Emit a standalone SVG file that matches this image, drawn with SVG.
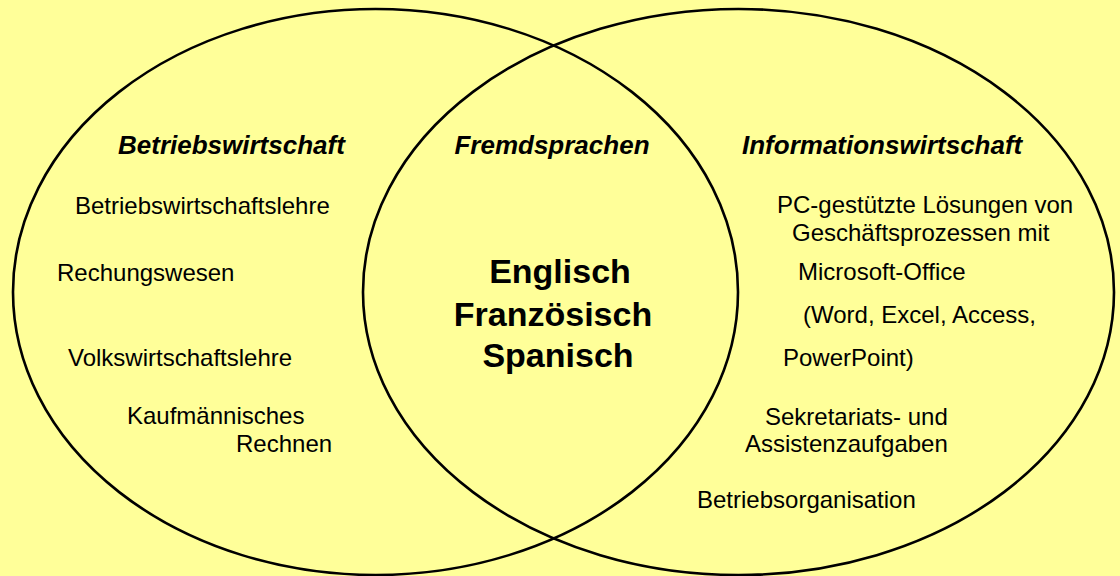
<svg xmlns="http://www.w3.org/2000/svg" width="1120" height="576" viewBox="0 0 1120 576">
<style>
.bg{fill:#FFFF99}
.ell{fill:none;stroke:#000;stroke-width:2.6}
.h{font-family:"Liberation Sans",Arial,sans-serif;font-size:26px;font-weight:bold;font-style:italic;fill:#000}
.t{font-family:"Liberation Sans",Arial,sans-serif;font-size:24px;fill:#000}
.c{font-family:"Liberation Sans",Arial,sans-serif;font-size:34px;font-weight:bold;fill:#000;text-anchor:middle}
</style>
<rect class="bg" x="0" y="0" width="1120" height="576"/>
<g id="connectors"></g>
<g id="left">
<ellipse class="ell" cx="375.5" cy="292" rx="362.5" ry="283"/>
<text class="h" x="118" y="154">Betriebswirtschaft</text>
<text class="t" x="75" y="214">Betriebswirtschaftslehre</text>
<text class="t" x="57" y="281">Rechungswesen</text>
<text class="t" x="68" y="366">Volkswirtschaftslehre</text>
<text class="t" x="127" y="424">Kaufmännisches</text>
<text class="t" x="236" y="452">Rechnen</text>
</g>
<g id="right">
<ellipse class="ell" cx="738.5" cy="292" rx="375.5" ry="283"/>
<text class="h" x="742" y="154">Informationswirtschaft</text>
<text class="t" x="777" y="213">PC-gestützte Lösungen von</text>
<text class="t" x="792" y="241">Geschäftsprozessen mit</text>
<text class="t" x="798" y="280">Microsoft-Office</text>
<text class="t" x="803" y="323">(Word, Excel, Access,</text>
<text class="t" x="783" y="366">PowerPoint)</text>
<text class="t" x="765" y="425">Sekretariats- und</text>
<text class="t" x="745" y="452">Assistenzaufgaben</text>
<text class="t" x="697" y="508">Betriebsorganisation</text>
</g>
<g id="center">
<text class="h" x="552" y="154" text-anchor="middle">Fremdsprachen</text>
<text class="c" x="560" y="283">Englisch</text>
<text class="c" x="553" y="326">Französisch</text>
<text class="c" x="558" y="367">Spanisch</text>
</g>
</svg>
